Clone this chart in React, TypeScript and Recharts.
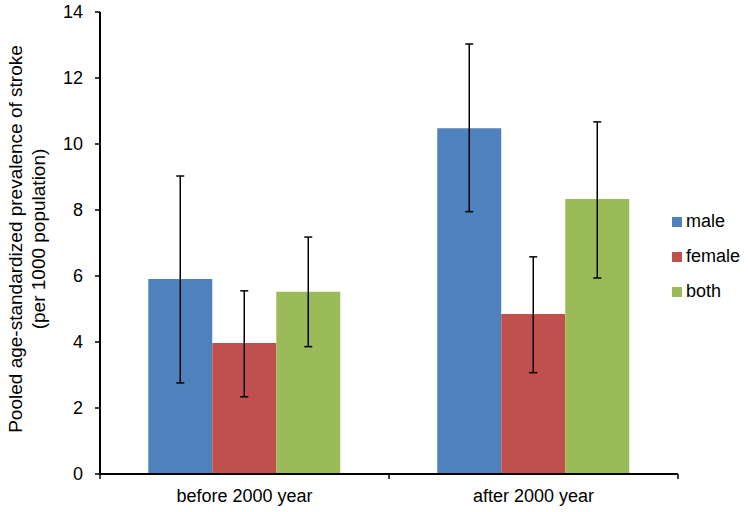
import React from "react";
import { BarChart, Bar, XAxis, YAxis, ErrorBar, Legend, Label } from "recharts";

// ---- data ----
const periods = ["before 2000 year", "after 2000 year"];
const seriesNames = ["male", "female", "both"];
const seriesColors = ["#4F81BD", "#C0504D", "#9BBB59"];

const maleValues = [5.91, 10.48];
const maleLow = [2.76, 7.95];
const maleHigh = [9.03, 13.03];

const femaleValues = [3.97, 4.85];
const femaleLow = [2.34, 3.07];
const femaleHigh = [5.55, 6.58];

const bothValues = [5.52, 8.33];
const bothLow = [3.86, 5.94];
const bothHigh = [7.18, 10.67];

const yTicks = [0, 2, 4, 6, 8, 10, 12, 14];
const yAxisTitleLines = [
  "Pooled age-standardized prevalence of stroke",
  "(per 1000 population)",
];

const values = [maleValues, femaleValues, bothValues];
const lows = [maleLow, femaleLow, bothLow];
const highs = [maleHigh, femaleHigh, bothHigh];

const data = periods.map((period, i) => {
  const row: Record<string, any> = { period, idx: i };
  seriesNames.forEach((name, s) => {
    row[name] = values[s][i];
    row[name + "Err"] = [values[s][i] - lows[s][i], highs[s][i] - values[s][i]];
  });
  return row;
});

const FONT = "'Liberation Sans', Arial, sans-serif";
const X_TICK_MARGIN = 15;
const X_TICK_LEN = 5;

const renderYLabel = (props: any) => {
  const vb = props.viewBox || { x: 0, y: 12, width: 100, height: 462 };
  const cy = vb.y + vb.height / 2 - 4;
  return (
    <g>
      {yAxisTitleLines.map((line, i) => {
        const x = 22 + i * 23;
        return (
          <text
            key={i}
            x={x}
            y={cy}
            transform={`rotate(-90, ${x}, ${cy})`}
            textAnchor="middle"
            fontSize={19}
            fontFamily={FONT}
            fill="#000"
          >
            {line}
          </text>
        );
      })}
    </g>
  );
};

// category tick: label at the centre, tick marks at the category boundaries
const CategoryTick = (props: any) => {
  const { x, y, payload, index, visibleTicksCount, width } = props;
  const n = visibleTicksCount || periods.length;
  const half = payload && payload.offset > 0 ? payload.offset : width / n / 2;
  const axisY = y - X_TICK_MARGIN;
  const marks = [x - half];
  if (index === n - 1) marks.push(x + half);
  return (
    <g>
      {marks.map((mx, k) => (
        <line
          key={k}
          x1={mx}
          x2={mx}
          y1={axisY}
          y2={axisY + X_TICK_LEN}
          stroke="#000"
          strokeWidth={1.5}
        />
      ))}
      <text
        x={x}
        y={y}
        dy="0.71em"
        textAnchor="middle"
        fontSize={18}
        fontFamily={FONT}
        fill="#000"
      >
        {payload.value}
      </text>
    </g>
  );
};

const renderLegend = (props: any) => {
  const payload = [...(props.payload || [])].sort(
    (a: any, b: any) =>
      seriesNames.indexOf(String(a.value)) - seriesNames.indexOf(String(b.value))
  );
  return (
    <div style={{ fontFamily: FONT, fontSize: 18, color: "#000" }}>
      {payload.map((entry: any, i: number) => (
        <div
          key={i}
          style={{ display: "flex", alignItems: "center", height: 35 }}
        >
          <span
            style={{
              display: "inline-block",
              width: 10,
              height: 10,
              background: entry.color,
              marginRight: 4,
            }}
          />
          <span>{entry.value}</span>
        </div>
      ))}
    </div>
  );
};

export default function App() {
  return (
    <div style={{ position: "absolute", left: 0, top: 0, background: "#fff" }}>
      <BarChart
        width={748}
        height={512}
        data={data}
        margin={{ top: 12, right: 70, bottom: 0, left: 0 }}
        barCategoryGap="16.7%"
        barGap={0}
      >
        <XAxis
          dataKey="period"
          type="category"
          height={38}
          axisLine={{ stroke: "#000", strokeWidth: 2 }}
          tickLine={false}
          tickSize={0}
          tickMargin={X_TICK_MARGIN}
          tick={<CategoryTick />}
          interval={0}
        />
        <YAxis
          domain={[0, 14]}
          ticks={yTicks}
          width={100}
          tickSize={5}
          tickMargin={12}
          interval={0}
          axisLine={{ stroke: "#000", strokeWidth: 2 }}
          tickLine={{ stroke: "#000", strokeWidth: 1.5 }}
          tick={{ fontSize: 18, fontFamily: FONT, fill: "#000" }}
        >
          <Label content={renderYLabel} />
        </YAxis>
        <Legend
          layout="vertical"
          align="center"
          verticalAlign="middle"
          content={renderLegend}
          wrapperStyle={{ left: 672, top: 204, width: 76 }}
        />
        {seriesNames.map((name, s) => (
          <Bar
            key={name}
            dataKey={name}
            name={name}
            fill={seriesColors[s]}
            isAnimationActive={false}
          >
            <ErrorBar
              dataKey={name + "Err"}
              direction="y"
              width={4}
              stroke="#000"
              strokeWidth={1.5}
              isAnimationActive={false}
            />
          </Bar>
        ))}
      </BarChart>
    </div>
  );
}
